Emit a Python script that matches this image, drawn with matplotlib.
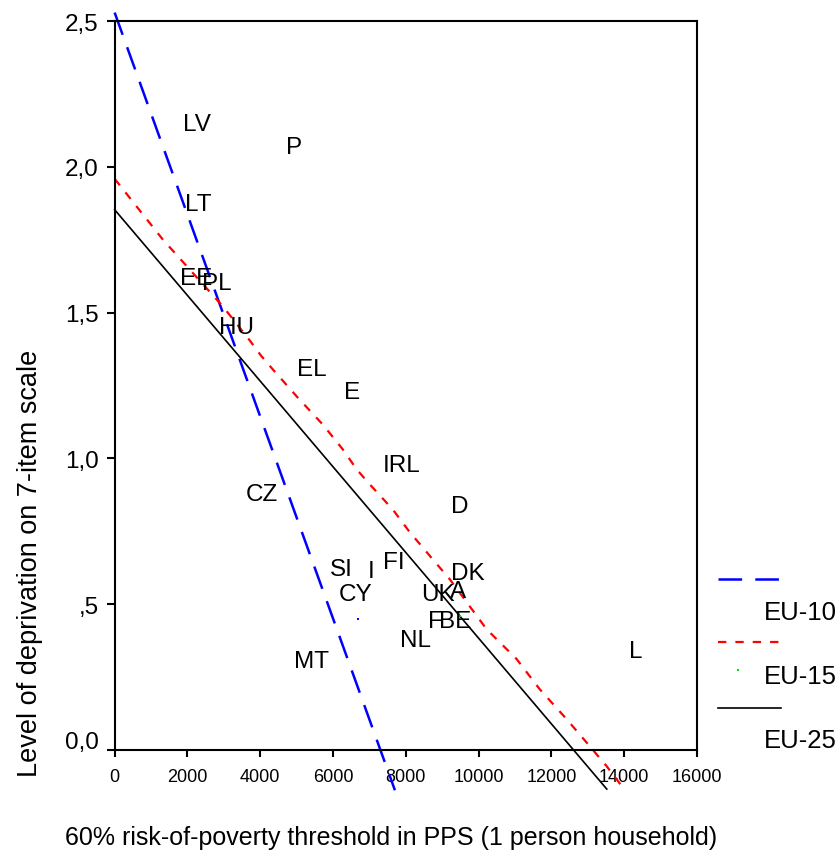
import numpy as np
import matplotlib
matplotlib.use("Agg")
import matplotlib.pyplot as plt
import matplotlib.transforms as mtransforms
from matplotlib.lines import Line2D

plt.rcParams['font.family'] = ['Liberation Sans', 'DejaVu Sans']
plt.rcParams['lines.scale_dashes'] = False

# country labels: threshold in PPS, deprivation level
countries = ["LV", "P", "LT", "EE", "PL", "HU", "EL", "E", "IRL", "CZ", "D",
             "SI", "I", "FI", "DK", "CY", "UK", "A", "F", "BE", "NL", "MT", "L"]
pps = [2260, 4920, 2290, 2250, 2810, 3360, 5420, 6520, 7890, 4050, 9480,
       6220, 7040, 7670, 9700, 6630, 8880, 9440, 8800, 9360, 8270, 5420, 14310]
depriv = [2.147, 2.068, 1.873, 1.620, 1.601, 1.449, 1.305, 1.229, 0.976, 0.877, 0.836,
          0.620, 0.613, 0.644, 0.606, 0.534, 0.534, 0.546, 0.443, 0.443, 0.377, 0.305, 0.339]

# fit lines
eu10_x = [0, 7700]
eu10_y = [2.529, -0.138]
eu25_x = [0, 13520]
eu25_y = [1.853, -0.134]
eu15_x = [0, 1328, 2069, 2975, 3716, 4018, 4347, 5006, 5719, 6268, 6652, 7009,
          7640, 8107, 8463, 8738, 9204, 9671, 10220, 11043, 11674, 12415, 13046,
          13513, 13952]
eu15_y = [1.959, 1.750, 1.647, 1.521, 1.404, 1.353, 1.305, 1.212, 1.116, 1.031,
          0.962, 0.911, 0.825, 0.747, 0.695, 0.654, 0.586, 0.507, 0.414, 0.312,
          0.209, 0.106, 0.014, -0.055, -0.127]

# stray point markers
dot10 = (6684, 0.449)
dot15 = (9490, 0.459)

xticks = [0, 2000, 4000, 6000, 8000, 10000, 12000, 14000, 16000]
yticks = [0.0, 0.5, 1.0, 1.5, 2.0, 2.5]
ytick_labels = ["0,0", ",5", "1,0", "1,5", "2,0", "2,5"]

fig = plt.figure(figsize=(8.38, 8.54), dpi=100)
ax = fig.add_axes([0.1368, 0.1206, 0.6950, 0.8536])

ax.plot(eu10_x, eu10_y, color='blue', lw=1.8, dashes=(17, 9.5), clip_on=False)
ax.plot(eu15_x, eu15_y, color='red', lw=1.6, dashes=(6, 6.5), clip_on=False)
ax.plot(eu25_x, eu25_y, color='black', lw=1.2, clip_on=False)
ax.plot([dot10[0]], [dot10[1]], 's', color='blue', ms=1.5, mew=0)
ax.plot([dot15[0]], [dot15[1]], 's', color='#00dd00', ms=1.5, mew=0)

for name, x, y in zip(countries, pps, depriv):
    ax.text(x, y, name, fontsize=17.5, ha='center', va='center')

ax.set_xlim(0, 16000)
ax.set_ylim(0, 2.5)
ax.set_xticks(xticks)
ax.set_xticklabels([str(t) for t in xticks], fontsize=13)
ax.set_yticks(yticks)
ax.set_yticklabels(ytick_labels, fontsize=17.5)
ax.tick_params(axis='x', direction='out', length=5, width=1.5, pad=8)
ax.tick_params(axis='y', direction='out', length=5.5, width=1.5, pad=6)
for sp in ax.spines.values():
    sp.set_linewidth(1.5)
    sp.set_color('black')

# the 0,0 label sits a little above its tick
lbl0 = ax.get_yticklabels()[0]
lbl0.set_transform(lbl0.get_transform() +
                   mtransforms.ScaledTranslation(0, 11 / 100, fig.dpi_scale_trans))

ax.set_xlabel("60% risk-of-poverty threshold in PPS (1 person household)", fontsize=18)
ax.xaxis.set_label_coords(0.4746, -0.1192)
ax.xaxis.label.set_va('center')
ax.set_ylabel("Level of deprivation on 7-item scale", fontsize=19.5)
ax.yaxis.set_label_coords(-0.1453, 0.2575)
ax.yaxis.label.set_va('center')

# legend: sample line on one row, label below it
def fx(px):
    return px / 838.0

def fy(py):
    return 1 - py / 854.0

fig.add_artist(Line2D([fx(718), fx(781)], [fy(580), fy(580)], color='blue',
                      lw=1.8, dashes=(17, 9.5)))
fig.text(fx(764), fy(613), "EU-10", fontsize=18.5, va='center', ha='left')
fig.add_artist(Line2D([fx(718), fx(781)], [fy(643), fy(643)], color='red',
                      lw=1.6, dashes=(6, 6.5)))
fig.add_artist(Line2D([fx(738)], [fy(671)], marker='s', color='#00dd00',
                      ms=1.5, mew=0, lw=0))
fig.text(fx(764), fy(677), "EU-15", fontsize=18.5, va='center', ha='left')
fig.add_artist(Line2D([fx(718), fx(781)], [fy(709), fy(709)], color='black',
                      lw=1.2))
fig.text(fx(764), fy(741), "EU-25", fontsize=18.5, va='center', ha='left')

fig.savefig("out.png", dpi=100)
